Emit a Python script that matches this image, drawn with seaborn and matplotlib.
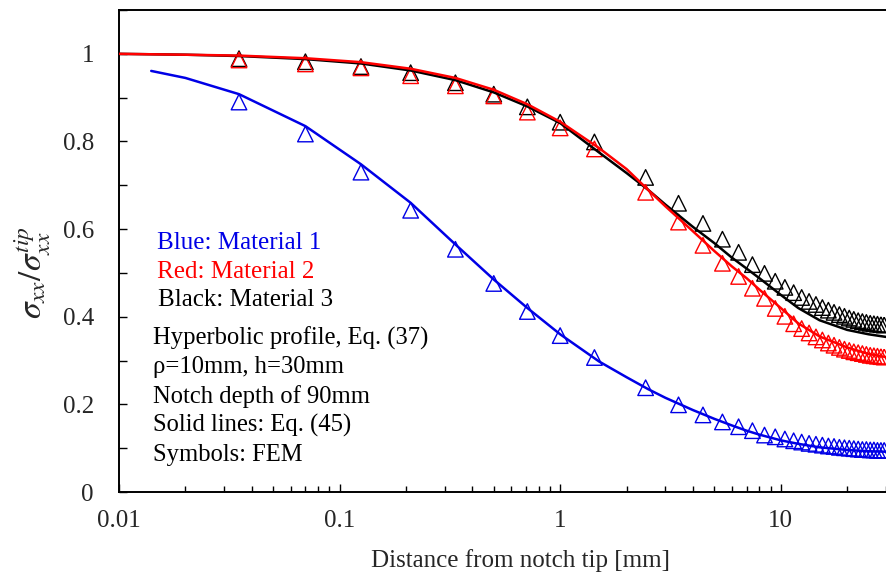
import matplotlib
matplotlib.use("Agg")
import matplotlib.pyplot as plt
import matplotlib.ticker as mticker
import seaborn as sns
import pandas as pd

# solid lines, Eq. (45)
line_x = [0.01, 0.014, 0.02, 0.035, 0.07, 0.125, 0.21, 0.335, 0.5, 0.71, 1.0, 1.5, 2.0,
          2.5, 3.0, 4.0, 5.0, 6.0, 7.0, 8.0, 10, 12, 15, 20, 25, 30]
blue_line = [None, 0.961, 0.945, 0.908, 0.835, 0.748, 0.660, 0.565, 0.485, 0.420, 0.360,
             0.298, 0.262, 0.235, 0.215, 0.187, 0.167, 0.152, 0.140, 0.131, 0.118, 0.110,
             0.102, 0.096, 0.093, 0.092]
red_line = [1.000, 0.999, 0.998, 0.996, 0.990, 0.981, 0.966, 0.945, 0.918, 0.885, 0.845,
            0.785, 0.737, 0.690, 0.652, 0.595, 0.550, 0.515, 0.488, 0.462, 0.420, 0.385,
            0.355, 0.330, 0.315, 0.308]
black_line = [1.000, 0.999, 0.998, 0.995, 0.988, 0.978, 0.962, 0.940, 0.912, 0.880, 0.842,
              0.775, 0.728, 0.690, 0.656, 0.605, 0.568, 0.535, 0.510, 0.488, 0.450, 0.420,
              0.392, 0.370, 0.360, 0.354]

# symbols, FEM
fem_x = [0.035, 0.07, 0.125, 0.21, 0.335, 0.5, 0.71, 1.0, 1.43, 2.44, 3.44, 4.44, 5.44,
         6.44, 7.44, 8.44, 9.44, 10.44, 11.44, 12.44, 13.44, 14.44, 15.44, 16.44, 17.44,
         18.44, 19.44, 20.44, 21.44, 22.44, 23.44, 24.44, 25.44, 26.44, 27.44, 28.44, 29.44]
blue_fem = [0.890, 0.817, 0.730, 0.643, 0.554, 0.476, 0.412, 0.357, 0.307, 0.238, 0.199,
            0.176, 0.160, 0.149, 0.140, 0.130, 0.126, 0.121, 0.117, 0.114, 0.111, 0.109,
            0.107, 0.105, 0.104, 0.102, 0.101, 0.100, 0.099, 0.098, 0.097, 0.097, 0.096,
            0.096, 0.095, 0.095, 0.095]
red_fem = [0.986, 0.977, 0.968, 0.950, 0.927, 0.904, 0.867, 0.831, 0.783, 0.684, 0.616,
           0.563, 0.522, 0.492, 0.465, 0.442, 0.419, 0.401, 0.384, 0.373, 0.363, 0.354,
           0.347, 0.340, 0.335, 0.330, 0.326, 0.323, 0.320, 0.318, 0.316, 0.314, 0.312,
           0.311, 0.310, 0.309, 0.308]
black_fem = [0.989, 0.982, 0.971, 0.957, 0.934, 0.908, 0.879, 0.844, 0.799, 0.718, 0.659,
             0.613, 0.577, 0.547, 0.519, 0.499, 0.481, 0.467, 0.455, 0.444, 0.435, 0.428,
             0.421, 0.415, 0.410, 0.405, 0.401, 0.397, 0.394, 0.391, 0.389, 0.387, 0.385,
             0.384, 0.383, 0.382, 0.381]

colors = {"Material 1": "#0000e6", "Material 2": "#ff0000", "Material 3": "#000000"}

lines = pd.DataFrame({"x": line_x, "Material 1": blue_line,
                      "Material 2": red_line, "Material 3": black_line})
fem = pd.DataFrame({"x": fem_x, "Material 1": blue_fem,
                    "Material 2": red_fem, "Material 3": black_fem})

sns.set_style("ticks")
plt.rcParams["font.family"] = ["Liberation Serif", "DejaVu Serif"]
plt.rcParams["mathtext.fontset"] = "stix"

fig = plt.figure(figsize=(8.86, 5.76), dpi=100)
ax = fig.add_axes([0.1343, 0.1458, 0.8657, 0.8368])

# red drawn last, as in the original
draw_order = ["Material 1", "Material 3", "Material 2"]
for mat in draw_order:
    sns.scatterplot(data=fem, x="x", y=mat, marker="^", s=125, facecolor="none",
                    edgecolor=colors[mat], linewidth=1.0, ax=ax, zorder=2)
for mat in draw_order:
    sns.lineplot(data=lines.dropna(subset=[mat]), x="x", y=mat, color=colors[mat],
                 linewidth=1.8, ax=ax, zorder=3)

ax.set_xscale("log")
ax.set_xlim(0.01, 30)
ax.set_ylim(0, 1.1)
ax.set_yticks([0, 0.2, 0.4, 0.6, 0.8, 1.0])
ax.yaxis.set_minor_locator(mticker.MultipleLocator(0.1))
fmt = mticker.FuncFormatter(lambda v, p: f"{v:g}")
ax.xaxis.set_major_formatter(fmt)
ax.yaxis.set_major_formatter(fmt)
ax.xaxis.set_minor_formatter(mticker.NullFormatter())
ax.tick_params(which="both", direction="in", labelsize=18, width=1.0, color="black")
ax.tick_params(which="major", length=6)
ax.tick_params(which="minor", length=4)
ax.tick_params(axis="y", which="minor", length=6)
ax.tick_params(axis="x", which="major", pad=13)
ax.tick_params(axis="y", which="major", pad=18)
for s in ["left", "bottom", "top"]:
    ax.spines[s].set_linewidth(1.4)
    ax.spines[s].set_color("black")
ax.spines["right"].set_visible(False)

ax.set_xlabel("Distance from notch tip [mm]", fontsize=18)
ax.xaxis.set_label_coords(0.523, -0.118)
ax.set_ylabel(r"$\sigma_{xx}/\sigma_{xx}^{tip}$", fontsize=24)
ax.yaxis.set_label_coords(-0.086, 0.456)

fig.text(0.1772, 0.578, "Blue: Material 1", color=colors["Material 1"], fontsize=18, va="center")
fig.text(0.1772, 0.528, "Red: Material 2", color=colors["Material 2"], fontsize=18, va="center")
fig.text(0.1784, 0.479, "Black: Material 3", color="black", fontsize=18, va="center")
notes = ["Hyperbolic profile, Eq. (37)", "ρ=10mm, h=30mm", "Notch depth of 90mm",
         "Solid lines: Eq. (45)", "Symbols: FEM"]
for i, t in enumerate(notes):
    fig.text(0.1727, 0.413 - i * 0.0507, t, color="black", fontsize=17.7, va="center")

fig.savefig("out.png", dpi=100)
